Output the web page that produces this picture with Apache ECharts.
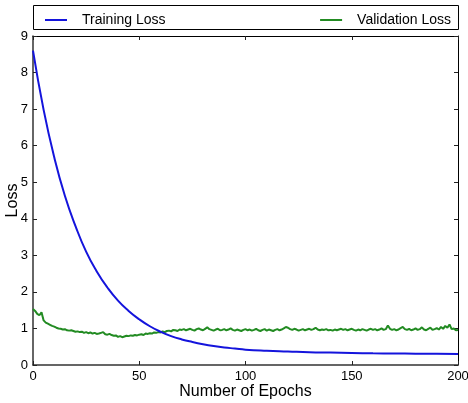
<!DOCTYPE html>
<html>
<head>
<meta charset="utf-8">
<script src="https://cdn.jsdelivr.net/npm/echarts@6/dist/echarts.min.js"></script>
<style>
  html, body { margin: 0; padding: 0; background: #fff; }
  #chart { width: 468px; height: 403px; }
</style>
</head>
<body>
<div id="chart"></div>
<script>
// 训练损失：每 5 个 epoch 读一个点
var trainEpochs = [0, 5, 10, 15, 20, 25, 30, 35, 40, 45, 50, 55, 60, 65, 70, 75, 80, 85, 90, 95,
    100, 110, 120, 130, 140, 150, 160, 170, 180, 190, 200];
var trainLoss = [8.6, 6.98, 5.68, 4.63, 3.8, 3.1, 2.56, 2.12, 1.76, 1.48, 1.25, 1.06, 0.91, 0.79, 0.7, 0.63, 0.57, 0.52, 0.48, 0.45,
    0.42, 0.39, 0.37, 0.35, 0.34, 0.33, 0.32, 0.315, 0.31, 0.305, 0.3];

// 验证损失：每个 epoch 一个点 (0..200)
var validLoss = [
    1.53, 1.48, 1.40, 1.36, 1.44, 1.22, 1.16, 1.13, 1.10, 1.07,
    1.05, 1.02, 1.00, 0.99, 0.97, 0.98, 0.95, 0.94, 0.95, 0.93,
    0.91, 0.92, 0.90, 0.91, 0.88, 0.90, 0.87, 0.89, 0.86, 0.88,
    0.85, 0.86, 0.88, 0.90, 0.84, 0.83, 0.85, 0.82, 0.80, 0.81,
    0.77, 0.79, 0.76, 0.78, 0.80, 0.79, 0.81, 0.80, 0.82, 0.81,
    0.83, 0.84, 0.82, 0.86, 0.85, 0.87, 0.86, 0.89, 0.88, 0.90,
    0.89, 0.92, 0.90, 0.93, 0.94, 0.92, 0.96, 0.95, 0.93, 0.97,
    0.96, 0.98, 0.95, 0.97, 0.99, 0.96, 0.94, 0.98, 1.00, 0.97,
    0.95, 0.99, 1.03, 0.98, 0.96, 0.94, 0.97, 0.99, 0.95, 0.96,
    0.98, 0.95, 0.97, 1.00, 0.96, 0.94, 0.97, 0.95, 0.93, 0.96,
    0.98, 0.95, 0.97, 0.94, 0.96, 0.99, 0.95, 0.93, 0.96, 0.98,
    0.94, 0.97, 0.95, 0.93, 0.96, 0.98, 0.95, 0.97, 1.00, 1.04,
    1.02, 0.98, 0.96, 0.99, 0.97, 0.94, 0.96, 0.98, 0.95, 0.97,
    0.99, 0.96, 0.98, 1.02, 0.97, 0.95, 0.97, 0.96, 0.98, 0.95,
    0.96, 0.94, 0.97, 0.95, 0.97, 0.99, 0.96, 0.98, 0.95, 0.97,
    0.99, 0.96, 0.94, 0.97, 0.95, 0.98, 0.96, 0.94, 0.97, 0.99,
    0.96, 0.98, 0.95, 0.97, 1.00, 0.96, 0.98, 1.08, 0.99, 0.96,
    0.98, 0.95, 0.97, 1.01, 1.04, 0.98, 0.96, 0.99, 0.95, 0.97,
    1.00, 0.96, 0.98, 1.03, 0.97, 0.95, 0.99, 1.02, 0.96, 0.98,
    1.01, 0.97, 1.04, 0.99, 1.07, 1.02, 1.11, 0.98, 1.00, 0.95,
    0.96
];

var seriesNames = ['Training Loss', 'Validation Loss'];
var seriesColors = ['#1414dc', '#228b22'];

var font = 'Liberation Sans, Arial, Helvetica, sans-serif';

var chart = echarts.init(document.getElementById('chart'));

var trainData = trainEpochs.map(function (e, i) { return [e, trainLoss[i]]; });
var validData = validLoss.map(function (v, i) { return [i, v]; });

var tickStyle = { show: true, inside: true, length: 4, lineStyle: { color: '#222', width: 1 } };

chart.setOption({
    animation: false,
    textStyle: { fontFamily: font },
    grid: { left: 33, right: 10, top: 36, bottom: 38, containLabel: false, outerBoundsMode: 'none' },
    graphic: [{
        type: 'rect',
        shape: { x: 33.5, y: 5.5, width: 425, height: 24 },
        style: { fill: '#fff', stroke: '#000', lineWidth: 1 },
        z: 0
    }],
    legend: [{
        data: [seriesNames[0]],
        left: 40, top: 8,
        itemWidth: 22, itemHeight: 2,
        icon: 'rect',
        textStyle: { fontFamily: font, fontSize: 14, color: '#000', padding: [0, 0, 0, 10] }
    }, {
        data: [seriesNames[1]],
        right: 12, top: 8,
        itemWidth: 22, itemHeight: 2,
        icon: 'rect',
        textStyle: { fontFamily: font, fontSize: 14, color: '#000', padding: [0, 0, 0, 10] }
    }],
    xAxis: [{
        type: 'value', min: 0, max: 200, interval: 50,
        name: 'Number of Epochs', nameLocation: 'middle', nameGap: 19, nameMoveOverlap: false,
        nameTextStyle: { fontFamily: font, fontSize: 16, color: '#000' },
        axisLine: { show: true, onZero: false, lineStyle: { color: '#333', width: 1.5 } },
        axisTick: tickStyle,
        axisLabel: { fontFamily: font, fontSize: 13, color: '#000', margin: 5 },
        splitLine: { show: false }
    }, {
        type: 'value', min: 0, max: 200, interval: 50, position: 'top',
        axisLine: { show: true, onZero: false, lineStyle: { color: '#000', width: 1 } },
        axisTick: tickStyle, axisLabel: { show: false }, splitLine: { show: false }
    }],
    yAxis: [{
        type: 'value', min: 0, max: 9, interval: 1,
        name: 'Loss', nameLocation: 'middle', nameGap: 12, nameMoveOverlap: false,
        nameTextStyle: { fontFamily: font, fontSize: 16, color: '#000' },
        axisLine: { show: true, onZero: false, lineStyle: { color: '#333', width: 1.5 } },
        axisTick: tickStyle,
        axisLabel: { fontFamily: font, fontSize: 13, color: '#000', margin: 5 },
        splitLine: { show: false }
    }, {
        type: 'value', min: 0, max: 9, interval: 1, position: 'right',
        axisLine: { show: true, onZero: false, lineStyle: { color: '#000', width: 1 } },
        axisTick: tickStyle, axisLabel: { show: false }, splitLine: { show: false }
    }],
    series: [{
        name: seriesNames[0],
        type: 'line',
        data: trainData,
        smooth: true,
        showSymbol: false,
        color: seriesColors[0],
        lineStyle: { color: seriesColors[0], width: 2 },
        z: 3
    }, {
        name: seriesNames[1],
        type: 'line',
        data: validData,
        showSymbol: false,
        color: seriesColors[1],
        lineStyle: { color: seriesColors[1], width: 2 },
        z: 2
    }]
});
</script>
</body>
</html>
